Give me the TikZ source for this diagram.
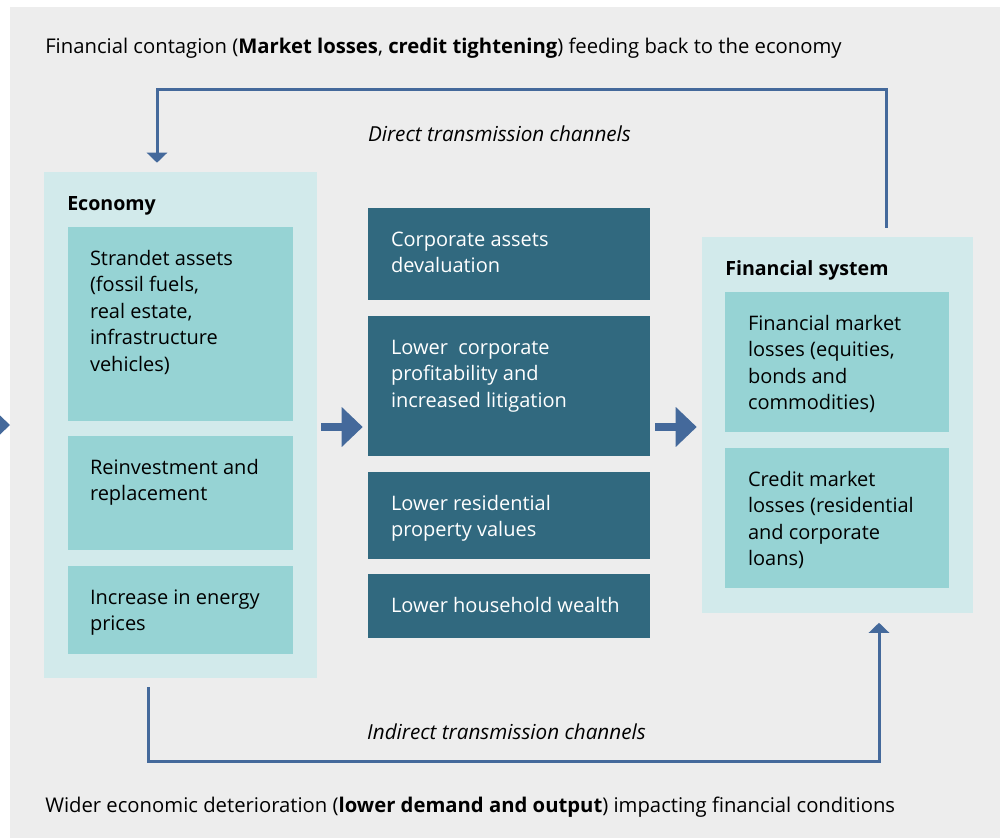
\documentclass[tikz,border=0pt]{standalone}
\usepackage{fontspec}
\setmainfont{Open Sans}
\usetikzlibrary{arrows.meta,calc,fit}
\definecolor{bggray}{HTML}{EDEDED}
\definecolor{outerc}{HTML}{D2EAEB}
\definecolor{innerc}{HTML}{96D3D4}
\definecolor{darkc}{HTML}{31697F}
\definecolor{arrowc}{HTML}{44699B}
\begin{document}
\begin{tikzpicture}[x=0.75pt,y=-0.75pt,
  outerbox/.style={fill=outerc, draw=none, inner sep=0pt},
  innerbox/.style={fill=innerc, draw=none, inner sep=0pt},
  darkbox/.style={fill=darkc, draw=none, inner sep=0pt},
  boxtext/.style={anchor=north west, inner sep=0pt, align=left, font=\fontsize{15}{19.9}\selectfont},
  darktext/.style={boxtext, text=white},
  headtext/.style={anchor=base west, inner sep=0pt, font=\fontsize{14.7}{19.9}\selectfont\bfseries},
  plaintext/.style={inner sep=0pt, font=\fontsize{15.2}{19.9}\selectfont},
  italtext/.style={inner sep=0pt, font=\fontsize{15.5}{19.9}\selectfont\itshape},
  loopline/.style={draw=arrowc, line width=2.25pt, -{Triangle[width=15pt,length=7.5pt]}},
  blockarrow/.style={draw=arrowc, line width=6pt, -{Triangle[width=29pt,length=15.75pt]}, shorten >=0pt}
]
\useasboundingbox (0,0) rectangle (1000,838);
\fill[bggray] (10,7) rectangle (1000,838);

% Economy
\node[outerbox, fit={(44,172) (317,678)}] (econ) {};
\node[headtext] (econlab) at (67,211) {Economy};
\node[innerbox, fit={(68,227) (293,421)}] (e1) {};
\node[innerbox, fit={(68,436) (293,550)}] (e2) {};
\node[innerbox, fit={(68,566) (293,654)}] (e3) {};
\node[boxtext] (e1t) at ($(e1.north west)+(22,19.8)$) {\strut Strandet assets\\(fossil fuels,\\real estate,\\infrastructure\\vehicles)};
\node[boxtext] (e2t) at ($(e2.north west)+(22,19.8)$) {\strut Reinvestment and\\replacement};
\node[boxtext] (e3t) at ($(e3.north west)+(22,19.8)$) {\strut Increase in energy\\prices};

% Middle
\node[darkbox, fit={(368,208) (650,300)}] (m1) {};
\node[darkbox, fit={(368,316) (650,456)}] (m2) {};
\node[darkbox, fit={(368,472) (650,559)}] (m3) {};
\node[darkbox, fit={(368,574) (650,638)}] (m4) {};
\node[darktext] (m1t) at ($(m1.north west)+(23,19.8)$) {\strut Corporate assets\\devaluation};
\node[darktext] (m2t) at ($(m2.north west)+(23,19.8)$) {\strut Lower\ \ corporate\\profitability and\\increased litigation};
\node[darktext] (m3t) at ($(m3.north west)+(23,19.8)$) {\strut Lower residential\\property values};
\node[darktext] (m4t) at ($(m4.north west)+(23,19.8)$) {\strut Lower household wealth};

% Financial system
\node[outerbox, fit={(702,237) (973,613)}] (fin) {};
\node[headtext] (finlab) at (725,275) {Financial system};
\node[innerbox, fit={(725,292) (949,432)}] (f1) {};
\node[innerbox, fit={(725,448) (949,588)}] (f2) {};
\node[boxtext] (f1t) at ($(f1.north west)+(23,19.8)$) {\strut Financial market\\losses (equities,\\bonds and\\commodities)};
\node[boxtext] (f2t) at ($(f2.north west)+(23,19.8)$) {\strut Credit market\\losses (residential\\and corporate\\loans)};

% Texts
\node[plaintext, anchor=base west] (toptext) at (45,54) {Financial contagion (\textbf{Market losses}, \textbf{credit tightening}) feeding back to the economy};
\node[plaintext, anchor=base west] (bottext) at (45,812) {Wider economic deterioration (\textbf{lower demand and output}) impacting financial conditions};
\node[italtext, anchor=base] (direct) at (499.5,142) {Direct transmission channels};
\node[italtext, anchor=base] (indirect) at (506.5,739) {Indirect transmission channels};

% Feedback loops
\coordinate (topstart) at ($(fin.north)+(48.5,-9)$);
\coordinate (topend) at ($(econ.north)+(-23.5,-9)$);
\draw[loopline] (topstart) |- (157,90) -- (topend);
\coordinate (botstart) at ($(econ.south)+(-32.5,9)$);
\coordinate (botend) at ($(fin.south)+(41.5,9.5)$);
\draw[loopline] (botstart) |- (879,761) -- (botend);

% Block arrows
\coordinate (a1s) at ($(econ.east |- 0,427)+(4,0)$);
\coordinate (a1e) at ($(m2.west |- 0,427)+(-5,0)$);
\draw[blockarrow] (a1s) -- (a1e);
\coordinate (a2s) at ($(m2.east |- 0,427)+(5,0)$);
\coordinate (a2e) at ($(fin.west |- 0,427)+(-5,0)$);
\draw[blockarrow] (a2s) -- (a2e);

% Cropped arrow head at left edge
\fill[arrowc] (0,415.5) -- (10,425) -- (0,434.5) -- cycle;
\end{tikzpicture}
\end{document}
